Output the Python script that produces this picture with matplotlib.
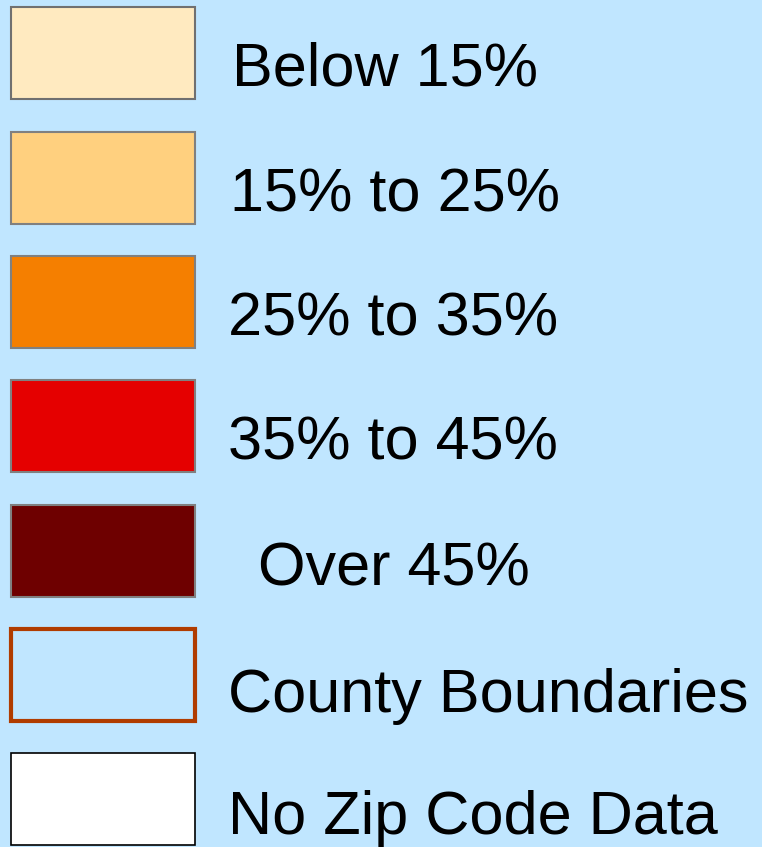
import matplotlib.pyplot as plt
from matplotlib.patches import Rectangle

plt.rcParams['font.family'] = ['Liberation Sans', 'DejaVu Sans']

BG = '#c0e6ff'

labels = ['Below 15%', '15% to 25%', '25% to 35%', '35% to 45%',
          'Over 45%', 'County Boundaries', 'No Zip Code Data']
fills = ['#ffeac0', '#ffd07f', '#f57f00', '#e50000', '#6e0000', BG, '#ffffff']
edges = ['#707070', '#808080', '#808080', '#808080', '#808080', '#b03c00', '#000000']
edge_widths = [1.5, 1.5, 1.5, 1.5, 1.5, 3.0, 1.2]

# layout in pixels
box_tops = [7, 132, 256, 380, 505, 629, 753]
text_x = [232, 230, 228, 228, 258, 228, 228]
baselines = [86, 211, 336, 460, 585, 712, 834]

fig = plt.figure(figsize=(7.62, 8.47), dpi=100)
fig.patch.set_facecolor(BG)
ax = fig.add_axes([0, 0, 1, 1])
ax.set_xlim(0, 762)
ax.set_ylim(847, 0)
ax.axis('off')

for i, lab in enumerate(labels):
    ax.add_patch(Rectangle((11, box_tops[i]), 184, 92, facecolor=fills[i],
                           edgecolor=edges[i], linewidth=edge_widths[i]))
    ax.text(text_x[i], baselines[i], lab, fontsize=44, va='baseline',
            ha='left', color='black')

fig.savefig('out.png', dpi=100, facecolor=BG)
